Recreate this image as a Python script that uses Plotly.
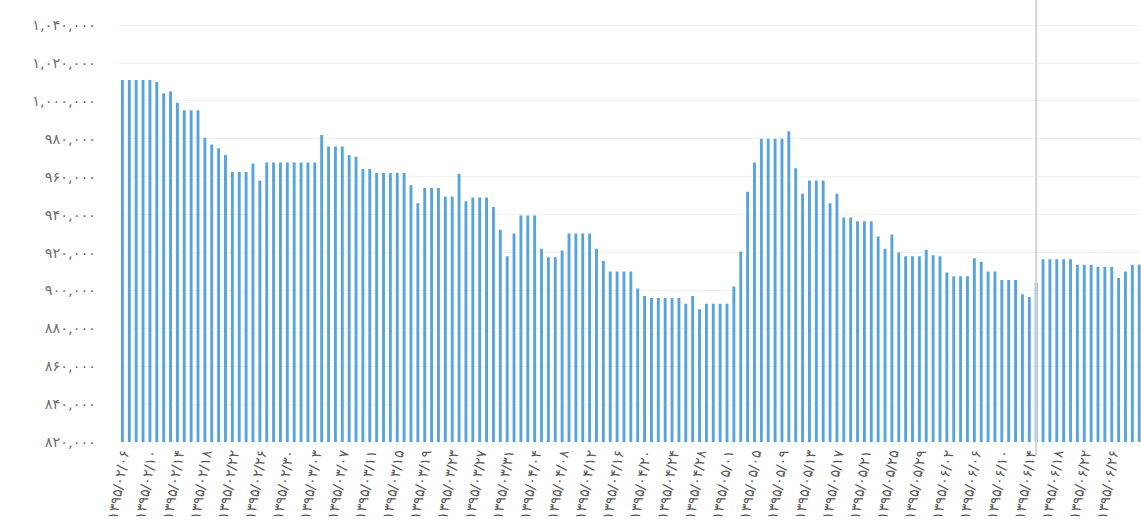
import plotly.graph_objects as go

# ---- data (values in Rials) ----
start_date = (1395, 2, 6)
values_k = [
    1011, 1011, 1011, 1011, 1011, 1010, 1004, 1005, 999, 995,
    995, 995, 980.5, 977, 975, 971.5, 962.5, 962.5, 962.5, 967,
    958, 967.5, 967.5, 967.5, 967.5, 967.5, 967.5, 967.5, 967.5, 982,
    976, 976, 976, 971.5, 970.5, 964, 964, 962, 962, 962,
    962, 962, 955.5, 946, 954, 954, 954, 949.5, 949.5, 961.5,
    947, 949, 949, 949, 944, 932, 918, 930, 939.5, 939.5,
    939.5, 922, 917.5, 917.5, 921, 930, 930, 930, 930, 922,
    915.5, 910, 910, 910, 910, 901, 897, 896, 896, 896,
    896, 896, 893, 897, 890, 893, 893, 893, 893, 902,
    920.5, 952, 967.5, 980, 980, 980, 980, 984, 964.5, 951,
    958, 958, 958, 946, 951, 938.5, 938.5, 936.5, 936.5, 936.5,
    928.5, 922, 929.5, 920, 918, 918, 918, 921.5, 918.5, 918,
    909.5, 907.5, 907.5, 907.5, 917, 915, 910, 910, 905.5, 905.5,
    905.5, 898, 896.5, 904, 916.5, 916.5, 916.5, 916.5, 916.5, 913.5,
    913.5, 913.5, 912.5, 912.5, 912.5, 906.5, 910, 913.5, 913.5,
]
values = [v * 1000 for v in values_k]
y_ticks = [820000, 840000, 860000, 880000, 900000, 920000, 940000, 960000,
           980000, 1000000, 1020000, 1040000]
label_step = 4
crosshair_index = 133

FA = str.maketrans("0123456789", "۰۱۲۳۴۵۶۷۸۹")


def fa(s):
    return s.translate(FA)


def month_len(m):
    return 31 if m <= 6 else 30


# categories: consecutive Jalali days
dates = []
y, m, d = start_date
for _ in values:
    dates.append(fa(f"{y}/{m:02d}/{d:02d}"))
    d += 1
    if d > month_len(m):
        d = 1
        m += 1
xs = list(range(len(values)))

tick_vals = xs[::label_step]
tick_text = [dates[i] for i in tick_vals]
y_text = [fa(f"{v:,}") for v in y_ticks]

fig = go.Figure(
    go.Bar(
        x=xs,
        y=values,
        width=0.42,
        marker=dict(color="#56a3dd", line=dict(width=0)),
        hovertext=dates,
    )
)

fig.add_shape(
    type="line", xref="x", yref="paper",
    x0=crosshair_index, x1=crosshair_index, y0=-0.03, y1=1,
    line=dict(color="#d4d4d4", width=2), layer="above",
)

fig.update_layout(
    width=1141,
    height=529,
    margin=dict(l=119, r=0, t=0, b=87),
    paper_bgcolor="white",
    plot_bgcolor="white",
    showlegend=False,
    font=dict(family="DejaVu Sans, Noto Sans, sans-serif", color="#6a6a6a"),
    xaxis=dict(
        range=[-0.5, 148.26],
        tickmode="array",
        tickvals=tick_vals,
        ticktext=tick_text,
        tickangle=-80,
        tickfont=dict(size=14, color="#5a5a5a"),
        showgrid=False,
        zeroline=False,
        showline=False,
        ticks="",
        automargin=False,
    ),
    yaxis=dict(
        range=[820000, 1053245],
        tickmode="array",
        tickvals=y_ticks,
        ticktext=y_text,
        tickfont=dict(size=14.5, color="#6e6e6e"),
        showgrid=True,
        gridcolor="#f1f1f1",
        gridwidth=1,
        zeroline=False,
        showline=False,
        ticks="",
        ticklabelstandoff=22,
        automargin=False,
    ),
)

fig.write_html(
    "out.html",
    config={"displayModeBar": False},
    post_script="document.body.style.margin='0';",
)
